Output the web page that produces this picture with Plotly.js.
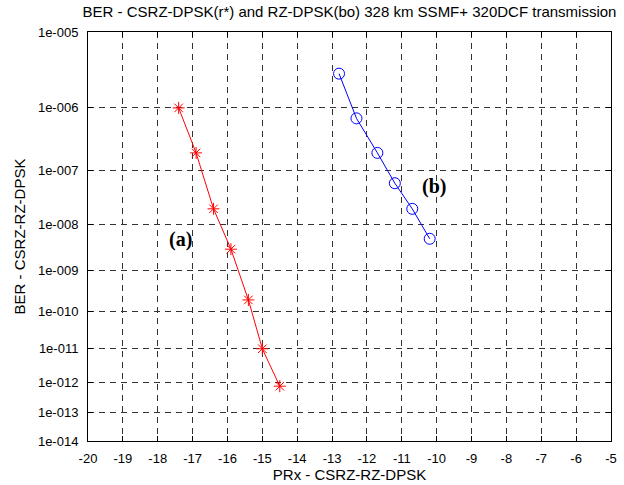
<!DOCTYPE html>
<html>
<head>
<meta charset="utf-8">
<script src="https://cdn.plot.ly/plotly-3.0.1.min.js"></script>
<style>
html,body{margin:0;padding:0;background:#fff;}
#chart{width:624px;height:485px;}
</style>
</head>
<body>
<div id="chart"></div>
<script>
// ---- data ----
const prxA = [-17.4, -16.9, -16.4, -15.9, -15.4, -15.0, -14.5];
const berA = [1e-6, 2e-7, 2e-8, 3e-9, 2e-10, 1e-11, 7.5e-13];
const prxB = [-12.8, -12.3, -11.7, -11.2, -10.7, -10.2];
const berB = [3e-6, 7e-7, 2e-7, 6e-8, 2e-8, 5e-9];
const berTicks = [1e-5, 1e-6, 1e-7, 1e-8, 1e-9, 1e-10, 1e-11, 1e-12, 1e-13, 1e-14];
const berTickText = ['1e-005','1e-006','1e-007','1e-008','1e-009','1e-010','1e-011','1e-012','1e-013','1e-014'];
const xTicks = [-20,-19,-18,-17,-16,-15,-14,-13,-12,-11,-10,-9,-8,-7,-6,-5];

// ---- BER axis scale: log10 of Q-factor (Q = -Phi^{-1}(BER)) ----
function normInvLower(p){
  const c=[-7.784894002430293e-03,-3.223964580411365e-01,-2.400758277161838e+00,-2.549732539343734e+00,4.374664141464968e+00,2.938163982698783e+00];
  const d=[7.784695709041462e-03,3.224671290700398e-01,2.445134137142996e+00,3.754408661907416e+00];
  const q=Math.sqrt(-2*Math.log(p));
  return (((((c[0]*q+c[1])*q+c[2])*q+c[3])*q+c[4])*q+c[5])/((((d[0]*q+d[1])*q+d[2])*q+d[3])*q+1);
}
function T(ber){ return Math.log10(-normInvLower(ber)); }

const tickFont = {family:'Liberation Sans, Arial, sans-serif', size:13, color:'#000'};
const titleFont = {family:'Liberation Sans, Arial, sans-serif', size:15, color:'#000'};

const traces = [
  {x: prxA, y: berA.map(T), mode:'lines+markers', type:'scatter',
   line:{color:'#ff0000', width:1},
   marker:{symbol:'asterisk-open', size:10, color:'#ff0000', line:{color:'#ff0000', width:1}},
   hoverinfo:'skip'},
  {x: prxB, y: berB.map(T), mode:'lines+markers', type:'scatter',
   line:{color:'#0000ff', width:1},
   marker:{symbol:'circle-open', size:11, color:'#0000ff', line:{color:'#0000ff', width:1}},
   hoverinfo:'skip'}
];

const layout = {
  width:624, height:485,
  margin:{l:88, r:13, t:32, b:44},
  paper_bgcolor:'#fff', plot_bgcolor:'#fff',
  showlegend:false,
  font: tickFont,
  title:{text:'BER - CSRZ-DPSK(r*) and RZ-DPSK(bo) 328 km SSMF+ 320DCF transmission',
         font:{family:'Liberation Sans, Arial, sans-serif', size:15, color:'#000'},
         x:0.5, xref:'paper', xanchor:'center', y:0.975, yanchor:'middle'},
  xaxis:{
    range:[-20,-5], tickmode:'array', tickvals:xTicks, ticktext:xTicks.map(String),
    showline:true, linecolor:'#000', linewidth:1, mirror:'allticks',
    ticks:'inside', ticklen:5, tickcolor:'#000', tickwidth:1,
    showgrid:true, gridcolor:'#333', gridwidth:1, griddash:'6px,5px',
    zeroline:false, ticklabelstandoff:5,
    tickfont:tickFont,
    title:{text:'PRx - CSRZ-RZ-DPSK', font:titleFont, standoff:4}
  },
  yaxis:{
    range:[T(1e-14), T(1e-5)], tickmode:'array', tickvals:berTicks.map(T), ticktext:berTickText,
    showline:true, linecolor:'#000', linewidth:1, mirror:'allticks',
    ticks:'inside', ticklen:5, tickcolor:'#000', tickwidth:1,
    showgrid:true, gridcolor:'#333', gridwidth:1, griddash:'6px,5px',
    zeroline:false, ticklabelstandoff:6,
    tickfont:tickFont,
    title:{text:'BER - CSRZ-RZ-DPSK', font:titleFont, standoff:8}
  },
  annotations:[
    {x:-17.35, y:T(4.8e-9), xref:'x', yref:'y', text:'<b>(a)</b>', showarrow:false,
     font:{family:'Liberation Serif, Times New Roman, serif', size:20, color:'#000'}},
    {x:-10.07, y:T(5.3e-8), xref:'x', yref:'y', text:'<b>(b)</b>', showarrow:false,
     font:{family:'Liberation Serif, Times New Roman, serif', size:20, color:'#000'}}
  ]
};

Plotly.newPlot('chart', traces, layout, {staticPlot:true, displayModeBar:false});
</script>
</body>
</html>
